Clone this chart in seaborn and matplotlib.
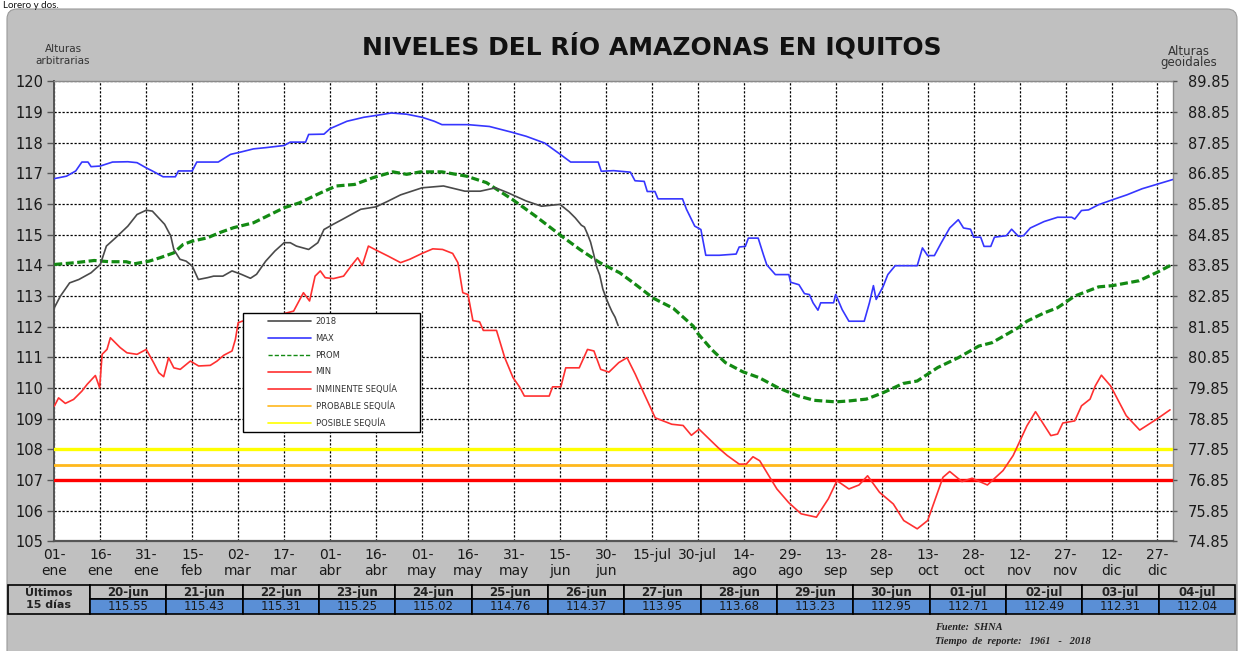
import matplotlib
matplotlib.use("Agg")
import matplotlib.pyplot as plt
import seaborn as sns
from matplotlib.patches import FancyBboxPatch, Rectangle
from matplotlib.lines import Line2D
from matplotlib.legend_handler import HandlerLine2D

# ---- data (day of year, 0 = 01-ene) ----
y2018_days = [0, 2, 5, 8, 12, 15, 17, 20, 24, 27, 30, 32, 36, 38, 39, 41, 43, 45, 47, 50,
              52, 55, 58, 61, 64, 66, 69, 72, 75, 77, 79, 83, 86, 88, 91, 94, 100, 105, 109, 113,
              120, 127, 134, 139, 144, 148, 154, 159, 165, 168]
y2018_vals = [112.62, 113.0, 113.43, 113.54, 113.76, 114.03, 114.63, 114.9, 115.28, 115.66,
              115.8, 115.77, 115.34, 114.96, 114.52, 114.2, 114.14, 113.98, 113.54, 113.6,
              113.65, 113.65, 113.82, 113.71, 113.58, 113.71, 114.14, 114.47, 114.74, 114.74,
              114.63, 114.52, 114.74, 115.17, 115.34, 115.5, 115.83, 115.91, 116.1, 116.3,
              116.53, 116.59, 116.42, 116.42, 116.53, 116.37, 116.1, 115.93, 115.99, 115.75]

# last 15 days (table)
last_dates = ['20-jun', '21-jun', '22-jun', '23-jun', '24-jun', '25-jun', '26-jun', '27-jun',
              '28-jun', '29-jun', '30-jun', '01-jul', '02-jul', '03-jul', '04-jul']
last_days = list(range(170, 185))
last_vals = [115.55, 115.43, 115.31, 115.25, 115.02, 114.76, 114.37, 113.95,
             113.68, 113.23, 112.95, 112.71, 112.49, 112.31, 112.04]

max_days = [0, 4, 7, 9, 11, 12, 15, 19, 24, 27, 30, 32, 35.5, 39.5, 40.5, 45, 46.5, 53.5, 57.5, 61,
            65, 69, 75, 77, 82, 83, 88, 90, 95.5, 101, 105, 110, 115, 120, 124, 126.5, 135, 142, 149, 154,
            160, 165, 168.5, 177.5, 178.5, 182.5, 188, 189.5, 192.5, 193.5, 196, 197, 205, 206.3, 209, 211,
            212.6, 217, 222.5, 223.5, 225.5, 226.5, 229.7, 231.4, 232.5, 235.3, 239.7, 240.3, 243, 244.8,
            246.4, 247.6, 249.2, 250.1, 254.3, 255, 257.1, 259.3, 264.3, 266, 267.3, 268.2, 270.5, 272,
            274.4, 281.6, 283.3, 285, 287.2, 289.4, 292.2, 295, 296.7, 299, 300, 302.3, 303.4, 305.6,
            306.8, 310.7, 312.4, 314.6, 316.3, 318.5, 323, 327.4, 332, 333, 335.2, 337.5, 340.8, 345.3,
            350, 355, 360, 365]
max_vals = [116.83, 116.91, 117.08, 117.37, 117.37, 117.22, 117.24, 117.37, 117.38, 117.35,
            117.18, 117.08, 116.89, 116.89, 117.08, 117.08, 117.37, 117.37, 117.62, 117.7,
            117.8, 117.84, 117.91, 118.02, 118.02, 118.27, 118.28, 118.46, 118.7, 118.83,
            118.89, 118.97, 118.93, 118.83, 118.7, 118.59, 118.59, 118.53, 118.35, 118.21,
            117.99, 117.63, 117.37, 117.37, 117.07, 117.09, 117.04, 116.76, 116.74, 116.41,
            116.41, 116.17, 116.17, 115.83, 115.28, 115.17, 114.33, 114.33, 114.37, 114.6,
            114.62, 114.89, 114.89, 114.35, 114.02, 113.7, 113.7, 113.45, 113.37, 113.08,
            113.05, 112.78, 112.54, 112.78, 112.78, 113.05, 112.56, 112.18, 112.18, 112.78,
            113.34, 112.89, 113.32, 113.7, 113.99, 113.99, 114.57, 114.32, 114.32, 114.73,
            115.22, 115.49, 115.22, 115.18, 114.92, 114.92, 114.62, 114.62, 114.92, 114.97,
            115.18, 114.95, 114.97, 115.22, 115.43, 115.57, 115.57, 115.51, 115.79, 115.81,
            115.98, 116.14, 116.3, 116.5, 116.65, 116.8]

prom_days = [0, 7, 13, 18, 23.5, 26, 31, 34.5, 39, 42, 45, 50, 54, 58.5, 65, 69.5, 75, 80, 87, 92,
             98, 104, 110.5, 115, 119.5, 126.5, 134.5, 141, 149.5, 157, 165.5, 171.5, 178, 184.5, 189,
             195.5, 202, 208.5, 210, 214.5, 219, 224.7, 230, 236, 242.5, 248, 255, 259.3, 265, 270.5,
             277, 281.6, 288.3, 295, 301.7, 306, 314.6, 317.4, 323, 327.4, 333, 340.8, 345.3, 354, 360, 365]
prom_vals = [114.03, 114.09, 114.16, 114.12, 114.12, 114.05, 114.14, 114.25, 114.41, 114.68,
             114.79, 114.9, 115.07, 115.23, 115.39, 115.61, 115.88, 116.04, 116.37, 116.59,
             116.64, 116.86, 117.05, 116.97, 117.05, 117.05, 116.91, 116.7, 116.15, 115.61,
             114.96, 114.52, 114.09, 113.76, 113.43, 112.93, 112.6, 112.02, 111.78, 111.26,
             110.83, 110.53, 110.34, 110.02, 109.75, 109.6, 109.55, 109.58, 109.64, 109.85,
             110.15, 110.23, 110.67, 110.99, 111.37, 111.48, 111.97, 112.18, 112.45, 112.62,
             113.0, 113.3, 113.34, 113.5, 113.78, 114.04]

min_days = [0, 1.4, 3.6, 6.3, 9, 10.7, 13.4, 14.8, 15.6, 17.2, 18.3, 19.9, 21.5, 23.7, 27, 30, 32.4,
            34.1, 35.7, 37.3, 39, 41.1, 44.4, 47.1, 50.9, 53.1, 55.3, 58, 59.1, 60, 61.3, 66, 72, 78.1,
            81.3, 83.3, 85.1, 86.8, 88.4, 91.1, 94.4, 97, 99, 100.5, 102.5, 105, 109, 113, 116, 120,
            123.5, 126.7, 130, 131.7, 133.3, 135, 136.6, 138.8, 140, 144.3, 147, 149.7, 151.8, 153.4,
            161.5, 162.6, 165.3, 166.9, 171.3, 174, 176.1, 178.3, 181, 184.2, 186.9, 189.6, 192.3,
            196.1, 201.5, 205.2, 207.9, 210.4, 216.7, 219.6, 223.5, 225.8, 228, 230.2, 235.8, 239.7,
            243.7, 248.7, 252.6, 255.4, 259.3, 262.6, 265.4, 269.3, 273.8, 277.2, 281.6, 285, 290,
            292.2, 296.2, 299.5, 304.5, 309.6, 312.9, 317.4, 320.2, 325.2, 327.4, 329.1, 333, 335.2,
            338, 339.7, 341.7, 344.7, 349.8, 354.2, 359.8, 364.1]
min_vals = [109.41, 109.68, 109.5, 109.63, 109.9, 110.12, 110.41, 110.01, 111.1, 111.26, 111.64,
            111.48, 111.32, 111.15, 111.1, 111.26, 110.83, 110.5, 110.37, 110.99, 110.66, 110.61,
            110.88, 110.72, 110.74, 110.88, 111.07, 111.21, 111.59, 112.13, 112.18, 112.25, 112.35,
            112.51, 113.11, 112.84, 113.65, 113.82, 113.6, 113.57, 113.65, 114.0, 114.25, 114.0,
            114.63, 114.5, 114.3, 114.09, 114.2, 114.39, 114.54, 114.52, 114.39, 114.09, 113.11,
            113.05, 112.2, 112.16, 111.88, 111.88, 110.99, 110.34, 110.04, 109.74, 109.74, 110.04,
            110.04, 110.66, 110.66, 111.26, 111.21, 110.61, 110.52, 110.83, 110.99, 110.45, 109.85,
            109.03, 108.82, 108.78, 108.46, 108.66, 108.05, 107.8, 107.52, 107.52, 107.76, 107.63,
            106.71, 106.26, 105.9, 105.79, 106.39, 106.98, 106.71, 106.84, 107.14, 106.6, 106.22,
            105.68, 105.41, 105.68, 107.09, 107.28, 106.95, 107.06, 106.84, 107.31, 107.8, 108.77,
            109.23, 108.45, 108.5, 108.86, 108.93, 109.42, 109.64, 110.07, 110.42, 110.07, 109.1,
            108.63, 108.99, 109.29]

# drought thresholds
inminente = 107.0
probable = 107.5
posible = 108.0

x_ticks = [0, 15, 30, 45, 60, 75, 90, 105, 120, 135, 150, 165, 180, 195, 210, 225, 240, 255,
           270, 285, 300, 315, 330, 345, 360]
x_labels = ['01-\nene', '16-\nene', '31-\nene', '15-\nfeb', '02-\nmar', '17-\nmar', '01-\nabr',
            '16-\nabr', '01-\nmay', '16-\nmay', '31-\nmay', '15-\njun', '30-\njun', '15-jul', '30-jul',
            '14-\nago', '29-\nago', '13-\nsep', '28-\nsep', '13-\noct', '28-\noct', '12-\nnov',
            '27-\nnov', '12-\ndic', '27-\ndic']
left_ticks = list(range(105, 121))
right_ticks = [74.85, 75.85, 76.85, 77.85, 78.85, 79.85, 80.85, 81.85, 82.85, 83.85,
               84.85, 85.85, 86.85, 87.85, 88.85, 89.85]

sns.set_style("white")
plt.rcParams['font.family'] = ['DejaVu Sans']

W, H = 1240, 651
fig = plt.figure(figsize=(12.4, 6.51), dpi=100)

# background panel (pixel coordinates)
bg = fig.add_axes([0, 0, 1, 1], zorder=0)
bg.set_xlim(0, W)
bg.set_ylim(H, 0)
bg.axis('off')
bg.add_patch(FancyBboxPatch((7, 9), 1230, 680, boxstyle="round,pad=0,rounding_size=10",
                            fc='#c0c0c0', ec='#9a9a9a', lw=0.8))
bg.text(3, 8, "Lorero y dos.", fontsize=7, va='baseline', ha='left', color='#111111',
        family='Lato')

# main axes
ax_l, ax_r, ax_t, ax_b = 54.3, 1172.8, 81.4, 541.4
ax = fig.add_axes([ax_l / W, 1 - ax_b / H, (ax_r - ax_l) / W, (ax_b - ax_t) / H], zorder=2)
ax.set_facecolor('white')

ax.axhline(inminente, color='#ff0000', lw=2.4, zorder=3)
ax.axhline(probable, color='#ffb81c', lw=2.0, zorder=3)
ax.axhline(posible, color='#ffff00', lw=2.4, zorder=3)

sns.lineplot(x=min_days, y=min_vals, ax=ax, color='#ff3030', linewidth=1.2, zorder=4)
sns.lineplot(x=prom_days, y=prom_vals, ax=ax, color='#138a13', linewidth=2.3,
             linestyle=(0, (2.5, 1.1)), zorder=4)
sns.lineplot(x=max_days, y=max_vals, ax=ax, color='#3636ff', linewidth=1.2, zorder=4)
sns.lineplot(x=y2018_days + last_days, y=y2018_vals + last_vals, ax=ax, color='#4a4a4a',
             linewidth=1.2, zorder=4)

ax.set_xlim(0, 365)
ax.set_ylim(105, 120)
ax.set_xticks(x_ticks)
ax.set_xticklabels(x_labels, fontsize=10, linespacing=1.25, color='#1a1a1a')
ax.set_yticks(left_ticks)
ax.set_yticklabels([str(v) for v in left_ticks], fontsize=10.5, color='#1a1a1a')
ax.tick_params(axis='x', direction='inout', length=7, width=1, color='#555555', pad=1)
ax.tick_params(axis='y', direction='out', length=5, width=1, color='#555555', pad=3)
ax.grid(True, color='black', linestyle=(0, (1.8, 1.4)), linewidth=0.9)
ax.set_xlabel('')
ax.set_ylabel('')
for side, sp in ax.spines.items():
    sp.set_visible(True)
    sp.set_color('#8a8a8a')
    sp.set_linewidth(1.0)
ax.spines['left'].set_color('#555555')
ax.spines['left'].set_linewidth(1.4)
ax.spines['bottom'].set_color('#555555')
ax.spines['bottom'].set_linewidth(1.6)

ax2 = ax.twinx()
ax2.set_ylim(right_ticks[0], right_ticks[-1])
ax2.set_yticks(right_ticks)
ax2.set_yticklabels(['%.2f' % v for v in right_ticks], fontsize=10.5, color='#1a1a1a')
ax2.tick_params(axis='y', direction='out', length=3, width=1, color='#555555', pad=8)
ax2.grid(False)
for sp in ax2.spines.values():
    sp.set_visible(False)

# legend
handles = [Line2D([], [], color='#4a4a4a', lw=1.2),
           Line2D([], [], color='#3636ff', lw=1.2),
           Line2D([], [], color='#138a13', lw=1.0, linestyle=(0, (3, 1.5))),
           Line2D([], [], color='#ff3030', lw=1.2),
           Line2D([], [], color='#ff3030', lw=1.2),
           Line2D([], [], color='#ffb81c', lw=1.2),
           Line2D([], [], color='#ffff00', lw=1.2)]
labels = ['2018', 'MAX', 'PROM', 'MIN', 'INMINENTE SEQUÍA', 'PROBABLE SEQUÍA', 'POSIBLE SEQUÍA']
lx0 = (243 - ax_l) / (ax_r - ax_l)
lx1 = (420 - ax_l) / (ax_r - ax_l)
ly0 = (ax_b - 436) / (ax_b - ax_t)
ly1 = (ax_b - 313) / (ax_b - ax_t)
leg = ax.legend(handles, labels, loc='upper left', mode='expand',
                bbox_to_anchor=(lx0, ly0, lx1 - lx0, ly1 - ly0), borderaxespad=0,
                fontsize=6, labelspacing=0.93, borderpad=0.5, handlelength=7.6,
                handletextpad=0.6, frameon=True, fancybox=False,
                handler_map={Line2D: HandlerLine2D(xpad=2.5)})
leg.get_frame().set_edgecolor('black')
leg.get_frame().set_linewidth(1.0)
leg.get_frame().set_facecolor('white')
leg.get_frame().set_alpha(1)
for t in leg.get_texts():
    t.set_color('#333333')
leg.set_zorder(10)

# titles and axis captions
bg.text(652, 46, 'NIVELES DEL RÍO AMAZONAS EN IQUITOS', fontsize=18, fontweight='bold',
        ha='center', va='center', color='#111111')
bg.text(63, 55, 'Alturas\narbitrarias', fontsize=7.5, ha='center', va='center',
        color='#333333', linespacing=1.2)
bg.text(1189, 57, 'Alturas\ngeoidales', fontsize=8.5, ha='center', va='center',
        color='#333333', linespacing=0.85)

# table of the last 15 days
t_top, row_h = 584.5, 14.5
c0_l, c0_r, t_right = 8, 90, 1235
col_w = (t_right - c0_r) / len(last_dates)
bg.add_patch(Rectangle((c0_l, t_top), c0_r - c0_l, 2 * row_h, fc='#c0c0c0', ec='black', lw=1.2))
bg.text((c0_l + c0_r) / 2, t_top + row_h, 'Últimos\n15 días', fontsize=8, fontweight='bold',
        ha='center', va='center', color='#222222', linespacing=1.15)
for i, (d, v) in enumerate(zip(last_dates, last_vals)):
    x0 = c0_r + i * col_w
    bg.add_patch(Rectangle((x0, t_top), col_w, row_h, fc='#c0c0c0', ec='black', lw=1.2))
    bg.add_patch(Rectangle((x0, t_top + row_h), col_w, row_h, fc='#5a8fd6', ec='black', lw=1.2))
    bg.text(x0 + col_w / 2, t_top + row_h / 2 + 0.5, d, fontsize=8.5, fontweight='bold',
            ha='center', va='center', color='#222222')
    bg.text(x0 + col_w / 2, t_top + 1.5 * row_h + 0.5, '%.2f' % v, fontsize=8.5,
            ha='center', va='center', color='#1a1a1a')

# source
bg.text(935, 628, 'Fuente:  SHNA', fontsize=7.5, style='italic', fontweight='bold',
        family='Liberation Serif', ha='left', va='center', color='#222222')
bg.text(935, 642, 'Tiempo  de  reporte:   1961   -   2018', fontsize=7.5, style='italic',
        fontweight='bold', family='Liberation Serif', ha='left', va='center', color='#222222')

fig.savefig('out.png', dpi=100)
